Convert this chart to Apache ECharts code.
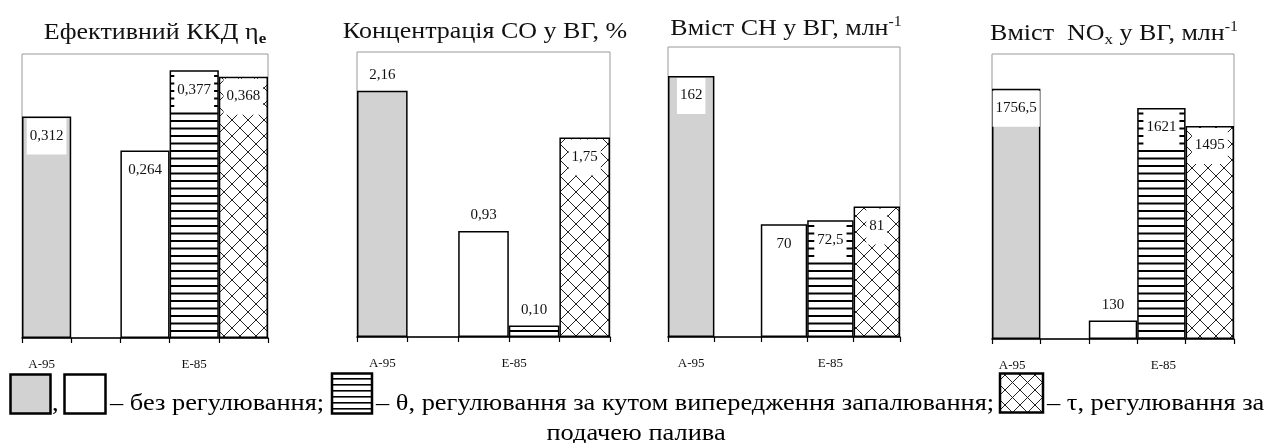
<!DOCTYPE html>
<html>
<head>
<meta charset="utf-8">
<script src="https://cdn.jsdelivr.net/npm/echarts@6/dist/echarts.min.js"></script>
<style>
html,body{margin:0;padding:0;background:#fff;}
#c{width:1267px;height:443px;}
</style>
</head>
<body>
<div id="c"></div>
<script>
// ---- data ----
const categories = ['A-95', '', '', 'E-85', ''];
const panelTitles = [
  '{t|Ефективний ККД η}{sub|e}',
  '{t|Концентрація СО у ВГ, %}',
  '{t|Вміст СН у ВГ, млн}{sup|-1}',
  '{t|Вміст  NO}{sub2|x}{t| у ВГ, млн}{sup|-1}'
];
const axisMax = [0.4, 2.5, 180, 2000];
const baseA95 = [0.312, 2.16, 162, 1756.5];   // без регулювання, A-95
const baseE85 = [0.264, 0.93, 70, 130];       // без регулювання, E-85
const thetaE85 = [0.377, 0.10, 72.5, 1621];   // θ-регулювання, E-85
const tauE85 = [0.368, 1.75, 81, 1495];       // τ-регулювання, E-85
const labelDecimals = [3, 2, null, null];
const legendTexts = [',', '– без регулювання;', '– θ, регулювання за кутом випередження запалювання;', '– τ, регулювання за', 'подачею палива'];

// ---- layout / style ----
const FONT = "'Liberation Serif', 'Times New Roman', serif";
const gridBoxes = [
  {left: 22, width: 246, top: 54, height: 284},
  {left: 357, width: 253, top: 52, height: 285},
  {left: 668, width: 232, top: 47, height: 290},
  {left: 992, width: 242, top: 54, height: 285}
];
const titlePos = [[155, 33], [485, 32], [786, 29], [1114, 34]];
// horizontal nudges of the tick labels [A-95, E-85] per panel (px)
const tickLabelShift = [[-5, 0], [0, -20], [0, 0], [-4, 2]];
// label placement per panel: [A-95, E-85 base, θ, τ]
const labelPos = [
  ['insideTop', 'insideTop', 'insideTop', 'insideTop'],
  ['top', 'top', 'top', 'insideTop'],
  ['insideTop', 'insideTop', 'insideTop', 'insideTop'],
  ['insideTop', 'top', 'insideTop', 'insideTop']
];
const GRAY = '#d2d2d2';

function hPattern(period, lw) {
  const c = document.createElement('canvas');
  c.width = 8; c.height = period * 2;
  const g = c.getContext('2d');
  g.fillStyle = '#fff'; g.fillRect(0, 0, 8, c.height);
  g.fillStyle = '#000';
  g.fillRect(0, 0, 8, lw);
  g.fillRect(0, period, 8, lw);
  return c;
}
function xPattern(s) {
  const c = document.createElement('canvas');
  c.width = s; c.height = s;
  const g = c.getContext('2d');
  g.fillStyle = '#fff'; g.fillRect(0, 0, s, s);
  g.strokeStyle = '#222'; g.lineWidth = 1;
  g.beginPath();
  for (let k = -1; k <= 1; k++) {
    g.moveTo(-2, -2 + k * s); g.lineTo(s + 2, s + 2 + k * s);
  }
  for (let k = 0; k <= 2; k++) {
    g.moveTo(-2, k * s + 2); g.lineTo(s + 2, k * s - s - 2);
  }
  g.stroke();
  return c;
}
const H_PAT = {image: hPattern(7.5, 2), repeat: 'repeat'};
const X_PAT = {image: xPattern(16), repeat: 'repeat'};
const H_PAT_LEG = {image: hPattern(6, 1.6), repeat: 'repeat'};
const X_PAT_LEG = {image: xPattern(15), repeat: 'repeat'};

function fmt(v, d) {
  const s = d == null ? String(v) : v.toFixed(d);
  return s.replace('.', ',');
}
function labelCfg(pos, d) {
  const base = {
    show: true, position: pos, fontFamily: FONT, fontSize: 15, color: '#111',
    formatter: p => fmt(p.value, d)
  };
  if (pos === 'insideTop') {
    Object.assign(base, {backgroundColor: '#fff', padding: [10, 3, 11, 3], distance: 2, lineHeight: 15});
  } else {
    Object.assign(base, {distance: 8});
  }
  return base;
}
function tickItem(name, shift) {
  if (!name) return name;
  const pad = shift < 0 ? [0, -2 * shift, 0, 0] : [0, 0, 0, 2 * shift];
  return {value: name, textStyle: {padding: pad}};
}

const grids = [], xAxes = [], yAxes = [], series = [], graphics = [];
for (let i = 0; i < 4; i++) {
  grids.push(Object.assign({show: true, borderColor: '#999', borderWidth: 1, backgroundColor: 'transparent'}, gridBoxes[i]));
  const cats = categories.map((c, j) => j === 0 ? tickItem(c, tickLabelShift[i][0]) : (j === 3 ? tickItem(c, tickLabelShift[i][1]) : c));
  xAxes.push({
    type: 'category', gridIndex: i, data: cats, boundaryGap: true,
    axisLine: {lineStyle: {color: '#000', width: 1.5}},
    axisTick: {show: true, interval: 0, length: 5, lineStyle: {color: '#000', width: 1.2}},
    axisLabel: {interval: 0, margin: 20, fontFamily: FONT, fontSize: 13, color: '#111'},
    splitLine: {show: false}, z: 5
  });
  yAxes.push({type: 'value', gridIndex: i, min: 0, max: axisMax[i], show: false, splitLine: {show: false}});
  const d = labelDecimals[i];
  const common = {type: 'bar', xAxisIndex: i, yAxisIndex: i, barWidth: '100%', barGap: '-100%',
    itemStyle: {borderColor: '#000', borderWidth: 1.5}, emphasis: {disabled: true}, animation: false};
  series.push(Object.assign({}, common, {
    name: 'base' + i,
    data: [
      {value: baseA95[i], itemStyle: {color: GRAY}, label: labelCfg(labelPos[i][0], d)},
      '-',
      {value: baseE85[i], itemStyle: {color: '#fff'}, label: labelCfg(labelPos[i][1], d)},
      '-', '-'
    ]
  }));
  series.push(Object.assign({}, common, {
    name: 'theta' + i,
    itemStyle: {color: H_PAT, borderColor: '#000', borderWidth: 1.5},
    data: ['-', '-', '-', {value: thetaE85[i], label: labelCfg(labelPos[i][2], d)}, '-']
  }));
  series.push(Object.assign({}, common, {
    name: 'tau' + i,
    itemStyle: {color: X_PAT, borderColor: '#000', borderWidth: 1.5},
    data: ['-', '-', '-', '-', {value: tauE85[i], label: labelCfg(labelPos[i][3], d)}]
  }));
  graphics.push({
    type: 'text', x: titlePos[i][0], y: titlePos[i][1], z: 10, scaleX: 1.13,
    style: {
      text: panelTitles[i], align: 'center', verticalAlign: 'middle', fill: '#111',
      rich: {
        t: {fontFamily: FONT, fontSize: 23, color: '#111'},
        sub: {fontFamily: FONT, fontSize: 15, fontWeight: 'bold', color: '#111', padding: [12, 0, 0, 0]},
        sub2: {fontFamily: FONT, fontSize: 15, color: '#111', padding: [12, 0, 0, 0]},
        sup: {fontFamily: FONT, fontSize: 14, color: '#111', padding: [0, 0, 14, 0]}
      }
    }
  });
}

// ---- legend (drawn as graphics) ----
const LEG_FONT = '24px ' + FONT;
function legRect(x, y, w, h, fill) {
  return {type: 'rect', shape: {x: x, y: y, width: w, height: h}, style: {fill: fill, stroke: '#000', lineWidth: 2.5}, z: 10};
}
function legText(x, y, t, align) {
  return {type: 'text', x: x, y: y, z: 10, scaleX: 1.1, style: {text: t, font: LEG_FONT, fill: '#000', align: align || 'left', verticalAlign: 'middle'}};
}
graphics.push(legRect(10.5, 374.5, 40, 39, GRAY));
graphics.push(legRect(64.5, 374.5, 41, 39, '#fff'));
graphics.push(legRect(332, 373.5, 40, 40, H_PAT_LEG));
graphics.push(legRect(1000, 373.5, 43, 39, X_PAT_LEG));
graphics.push(legText(52, 404, legendTexts[0]));
graphics.push(legText(110, 404, legendTexts[1]));
graphics.push(legText(376, 404, legendTexts[2]));
graphics.push(legText(1047, 404, legendTexts[3]));
graphics.push(legText(636, 434, legendTexts[4], 'center'));

const chart = echarts.init(document.getElementById('c'), null, {renderer: 'canvas'});
chart.setOption({
  animation: false,
  backgroundColor: '#fff',
  grid: grids, xAxis: xAxes, yAxis: yAxes, series: series,
  graphic: graphics
});
</script>
</body>
</html>
